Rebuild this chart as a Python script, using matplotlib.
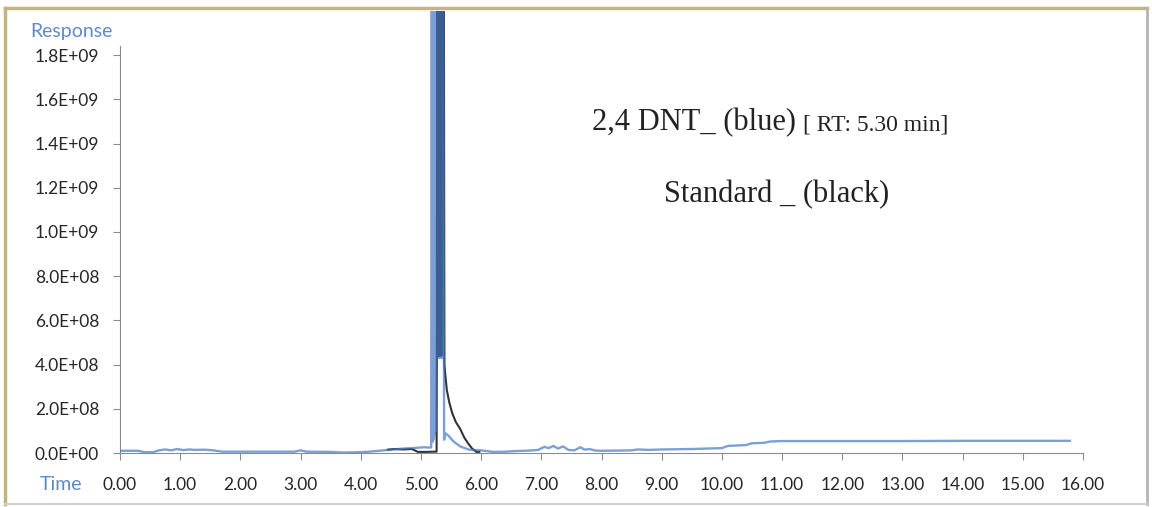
import numpy as np
import matplotlib
matplotlib.use('Agg')
import matplotlib.pyplot as plt
from matplotlib.lines import Line2D

# sample trace (blue): time in min, detector response
blue_t = [0.00, 0.30, 0.40, 0.55, 0.65, 0.75, 0.85, 0.95, 1.05, 1.15, 1.25,
          1.40, 1.55, 1.70, 2.00, 2.50, 2.90, 3.00, 3.10, 3.50, 3.70, 3.90,
          4.10, 4.30, 4.50, 4.70, 4.90, 5.05, 5.12,
          5.17, 5.18, 5.19, 5.20, 5.21, 5.22, 5.23, 5.24, 5.25, 5.26,
          5.27, 5.28, 5.29, 5.30, 5.31, 5.32, 5.33, 5.34, 5.35, 5.36, 5.37,
          5.385, 5.40, 5.45, 5.55, 5.65, 5.80, 6.00, 6.20, 6.40, 6.60, 6.80, 6.95,
          7.05, 7.12, 7.20, 7.28, 7.36, 7.45, 7.55, 7.65, 7.72, 7.80, 7.90,
          8.00, 8.30, 8.50, 8.60, 8.80, 9.00, 9.50, 10.00, 10.10, 10.40,
          10.50, 10.70, 10.80, 11.00, 12.00, 13.00, 14.00, 15.00, 15.78]
blue_v = [1.0e7, 1.0e7, 4.0e6, 4.0e6, 1.2e7, 1.6e7, 1.2e7, 1.8e7, 1.3e7, 1.6e7, 1.4e7,
          1.5e7, 1.2e7, 6.0e6, 6.0e6, 6.0e6, 6.0e6, 1.2e7, 6.0e6, 5.0e6, 2.0e6, 3.0e6,
          5.0e6, 1.0e7, 1.5e7, 2.0e7, 2.3e7, 2.6e7, 2.5e7,
          2.5e7, 2.4e9, 5.0e7, 2.4e9, 6.0e7, 2.4e9, 8.0e7, 2.4e9, 1.0e8, 2.4e9,
          4.3e8, 2.4e9, 4.3e8, 2.4e9, 4.3e8, 2.4e9, 4.3e8, 2.4e9, 4.3e8, 2.4e9, 2.4e9,
          6.0e7, 9.0e7, 8.0e7, 5.0e7, 3.0e7, 1.5e7, 1.2e7, 5.0e6, 6.0e6, 9.0e6, 1.1e7, 1.4e7,
          2.8e7, 2.2e7, 3.2e7, 2.0e7, 3.0e7, 1.4e7, 1.2e7, 2.6e7, 1.5e7, 1.8e7, 1.1e7,
          1.0e7, 1.1e7, 1.2e7, 1.6e7, 1.4e7, 1.6e7, 1.8e7, 2.2e7, 3.2e7, 3.6e7,
          4.4e7, 4.6e7, 5.2e7, 5.4e7, 5.4e7, 5.4e7, 5.5e7, 5.5e7, 5.5e7]

# standard trace (black)
black_t = [4.45, 4.55, 4.70, 4.85, 4.95, 5.10, 5.20, 5.26, 5.265, 5.27,
           5.28, 5.29, 5.30, 5.31, 5.32, 5.33, 5.34, 5.35, 5.36, 5.38, 5.39,
           5.41, 5.43, 5.47, 5.52, 5.58, 5.65, 5.72, 5.78, 5.85, 5.92, 5.97]
black_v = [1.5e7, 1.8e7, 1.6e7, 1.8e7, 5.0e6, 5.0e6, 6.0e6, 6.0e6, 5.7e8, 2.4e9,
           4.4e8, 2.4e9, 4.4e8, 2.4e9, 4.4e8, 2.4e9, 4.4e8, 2.4e9, 2.4e9, 2.4e9, 4.0e8,
           3.4e8, 2.85e8, 2.3e8, 1.8e8, 1.4e8, 1.1e8, 7.0e7, 4.5e7, 2.0e7, 5.0e6, 5.0e6]

y_ticks = [0, 2e8, 4e8, 6e8, 8e8, 1.0e9, 1.2e9, 1.4e9, 1.6e9, 1.8e9]
y_labels = ['0.0E+00', '2.0E+08', '4.0E+08', '6.0E+08', '8.0E+08',
            '1.0E+09', '1.2E+09', '1.4E+09', '1.6E+09', '1.8E+09']
x_ticks = list(range(0, 17))
x_labels = ['%.2f' % v for v in x_ticks]

label_color = '#262626'
axis_blue = '#5f8ac6'

plt.rcParams['font.family'] = ['Lato', 'DejaVu Sans']

fig = plt.figure(figsize=(11.52, 5.07), dpi=100)
ax = fig.add_axes([120 / 1152, 54 / 507, (1083 - 120) / 1152, 442 / 507])

# standard underneath, semi-transparent sample on top (overlap reads navy)
ax.plot(black_t, black_v, color='#333333', lw=1.5, zorder=2)
ax.plot(blue_t, blue_v, color='#3f74c0', lw=1.7, alpha=0.68, zorder=3)

ax.set_xlim(0, 16)
ax.set_ylim(0, 2.0e9)

ax.set_yticks(y_ticks)
ax.set_yticklabels(y_labels)
ax.set_xticks(x_ticks)
ax.set_xticklabels(x_labels)

for s in ['top', 'right']:
    ax.spines[s].set_visible(False)
ax.spines['left'].set_bounds(0, 1.84e9)
ax.spines['left'].set_color('#8c8c8c')
ax.spines['bottom'].set_color('#8c8c8c')
ax.tick_params(axis='both', direction='out', length=5, color='#8c8c8c',
               labelsize=12.5, labelcolor=label_color)
ax.tick_params(axis='y', pad=10)
ax.tick_params(axis='x', pad=12)

fig.text(30 / 1152, 1 - 32 / 507, 'Response', color=axis_blue,
         fontsize=14, va='center', ha='left')
fig.text(40 / 1152, 1 - 485 / 507, 'Time', color=axis_blue,
         fontsize=14, va='center', ha='left')

serif = ['Liberation Serif', 'DejaVu Serif']
fig.text(796 / 1152, 1 - 130 / 507, '2,4 DNT_ (blue)', family=serif,
         fontsize=22, ha='right', va='baseline', color='#222222')
fig.text(803 / 1152, 1 - 130 / 507, '[ RT: 5.30 min]', family=serif,
         fontsize=17, ha='left', va='baseline', color='#222222')
fig.text(777 / 1152, 1 - 202 / 507, 'Standard _ (black)', family=serif,
         fontsize=22, ha='center', va='baseline', color='#222222')

# outer chart border
fig.add_artist(Line2D([5 / 1152, 1147 / 1152], [1 - 8 / 507, 1 - 8 / 507],
                      transform=fig.transFigure, color='#c4b47e', lw=2.5))
fig.add_artist(Line2D([5 / 1152, 5 / 1152], [1 - 8 / 507, 1 - 504 / 507],
                      transform=fig.transFigure, color='#c4b47e', lw=2.5))
fig.add_artist(Line2D([1147 / 1152, 1147 / 1152], [1 - 8 / 507, 1 - 504 / 507],
                      transform=fig.transFigure, color='#b5b5b5', lw=2))
fig.add_artist(Line2D([5 / 1152, 1147 / 1152], [1 - 504 / 507, 1 - 504 / 507],
                      transform=fig.transFigure, color='#d0d0d0', lw=1.5))

fig.savefig('out.png', dpi=100)
